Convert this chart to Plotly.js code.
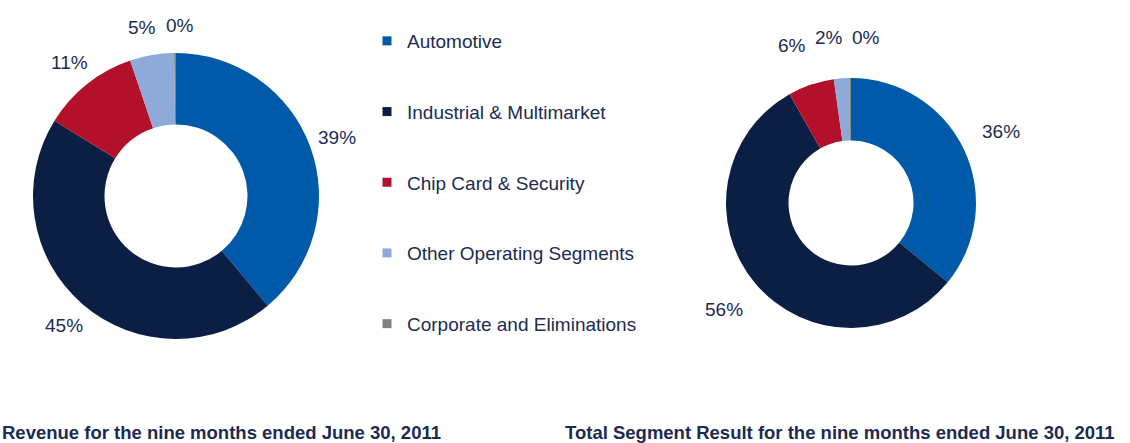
<!DOCTYPE html>
<html>
<head>
<meta charset="utf-8">
<script src="https://cdn.plot.ly/plotly-3.0.1.min.js"></script>
<style>html,body{margin:0;padding:0;background:#fff;}#chart{width:1130px;height:443px;}</style>
</head>
<body>
<div id="chart"></div>
<script>
const segments = ["Automotive", "Industrial & Multimarket", "Chip Card & Security", "Other Operating Segments", "Corporate and Eliminations"];
const revenueShare = [39, 45, 11, 5, 0.2];
const segmentResultShare = [36, 56, 6, 2, 0.2];
const segmentColors = ["#005aa9", "#0b1f45", "#b3102b", "#8eaad8", "#808080"];
const revenueTitle = "Revenue for the nine months ended June 30, 2011";
const resultTitle = "Total Segment Result for the nine months ended June 30, 2011";

const textColor = "#1c2b52";
const font = "Liberation Sans, Arial, sans-serif";
const W = 1130, H = 443;
const labelSize = 19;

const charts = [
  { values: revenueShare, cx: 176, cy: 196, r: 143, labelR: 171, title: revenueTitle, titleX: 221 },
  { values: segmentResultShare, cx: 851, cy: 203, r: 125, labelR: 166, title: resultTitle, titleX: 840 }
];

function pieDomain(c) {
  return {
    x: [(c.cx - c.r) / W, (c.cx + c.r) / W],
    y: [(H - c.cy - c.r) / H, (H - c.cy + c.r) / H]
  };
}

const traces = [];
const annotations = [];

charts.forEach((c) => {
  traces.push({
    type: "pie",
    labels: segments,
    values: c.values,
    domain: pieDomain(c),
    hole: 0.5,
    sort: false,
    direction: "clockwise",
    rotation: 0,
    marker: { colors: segmentColors, line: { width: 0 } },
    textinfo: "none",
    showlegend: false,
    hoverinfo: "label+percent"
  });
  // percentage labels placed outside each slice, at the slice's middle angle
  const total = c.values.reduce((a, b) => a + b, 0);
  let cum = 0;
  const labels = c.values.map((v) => {
    const mid = (cum + v / 2) / total * 2 * Math.PI;
    cum += v;
    const txt = Math.round(v / total * 100) + "%";
    return {
      txt: txt,
      x: c.cx + c.labelR * Math.sin(mid),
      y: c.cy - c.labelR * Math.cos(mid),
      w: txt.length * labelSize * 0.72
    };
  });
  // simple collision avoidance: push overlapping labels apart horizontally
  const gap = 10;
  for (let pass = 0; pass < 20; pass++) {
    let moved = false;
    for (let i = 1; i < labels.length; i++) {
      for (let j = 0; j < i; j++) {
        const a = labels[j], b = labels[i];
        const need = (a.w + b.w) / 2 + gap;
        const dx = b.x - a.x;
        if (Math.abs(dx) < need - 0.5 && Math.abs(b.y - a.y) < labelSize) {
          const shift = (need - Math.abs(dx)) / 2;
          const s = dx >= 0 ? 1 : -1;
          b.x += s * shift;
          a.x -= s * shift;
          moved = true;
        }
      }
    }
    if (!moved) break;
  }
  labels.forEach((l) => {
    annotations.push({
      text: l.txt,
      xref: "paper", yref: "paper", x: l.x / W, y: (H - l.y) / H,
      xanchor: "center", yanchor: "middle", showarrow: false,
      font: { family: font, size: labelSize, color: textColor }
    });
  });
  annotations.push({
    text: c.title, xref: "paper", yref: "paper", x: c.titleX / W, y: 11 / H,
    xanchor: "center", yanchor: "middle", showarrow: false,
    font: { family: font, size: 18.5, color: textColor, weight: "bold" }
  });
});

segments.forEach((s, i) => {
  traces.push({
    type: "scatter", mode: "markers", x: [null], y: [null],
    name: s, legendgroup: "g" + i, showlegend: true,
    marker: { symbol: "square", size: 9, color: segmentColors[i] },
    hoverinfo: "skip"
  });
});

const layout = {
  width: W, height: H,
  margin: { l: 0, r: 0, t: 0, b: 0 },
  paper_bgcolor: "#fff", plot_bgcolor: "#fff",
  font: { family: font, color: textColor },
  xaxis: { visible: false }, yaxis: { visible: false },
  showlegend: true,
  legend: {
    x: 367 / W, y: 1 - 22 / H, xanchor: "left", yanchor: "top",
    font: { family: font, size: 19, color: textColor },
    tracegroupgap: 43, itemwidth: 30, bgcolor: "rgba(0,0,0,0)"
  },
  annotations: annotations
};

Plotly.newPlot("chart", traces, layout, { displayModeBar: false, staticPlot: true });
</script>
</body>
</html>
